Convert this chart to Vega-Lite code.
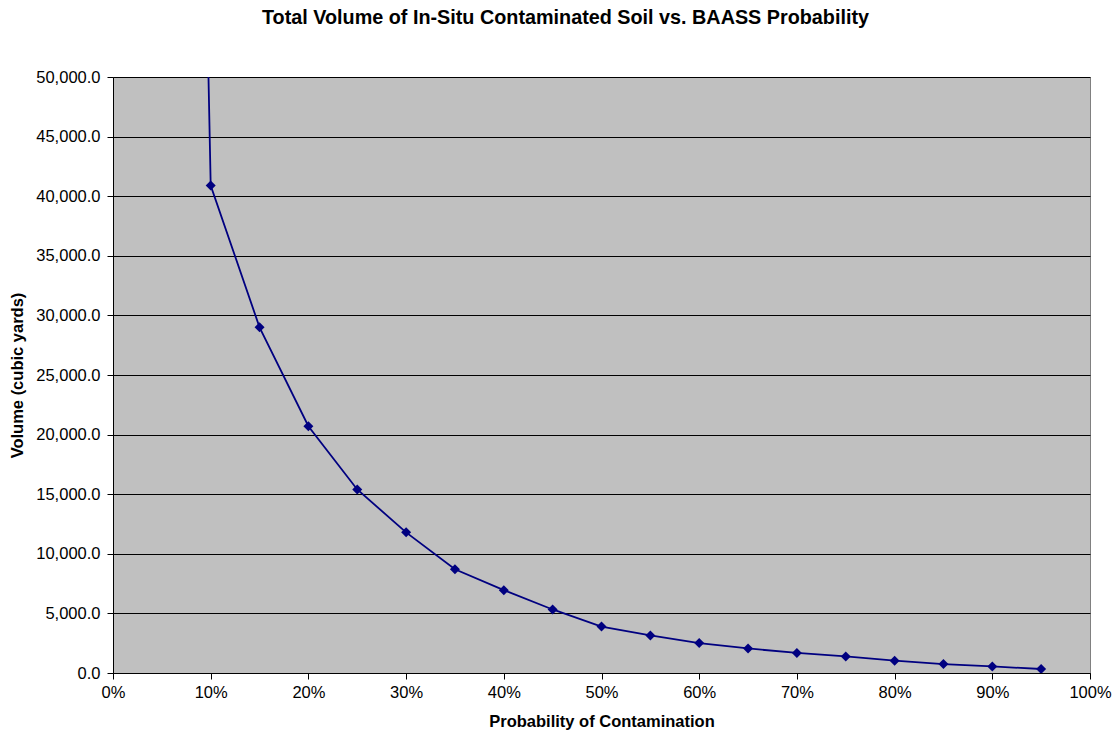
{
  "$schema": "https://vega.github.io/schema/vega-lite/v6.json",
  "autosize": "none",
  "width": 977,
  "height": 596,
  "padding": {"left": 113, "top": 77, "right": 27, "bottom": 67},
  "background": "#ffffff",
  "title": {
    "text": "Total Volume of In-Situ Contaminated Soil vs. BAASS Probability",
    "font": "Liberation Sans",
    "fontSize": 19.8,
    "fontWeight": "bold",
    "color": "#000000",
    "anchor": "middle",
    "dx": -36,
    "offset": 41
  },
  "config": {
    "view": {"fill": "#c0c0c0", "stroke": "#808080", "strokeWidth": 1},
    "axis": {
      "labelFont": "Liberation Sans",
      "labelFontSize": 16.5,
      "labelColor": "#000000",
      "labelFlush": false,
      "labelOverlap": false,
      "titleFont": "Liberation Sans",
      "titleFontSize": 16.5,
      "titleFontWeight": "bold",
      "titleColor": "#000000",
      "domainColor": "#000000",
      "tickColor": "#000000",
      "tickSize": 6,
      "gridColor": "#000000",
      "gridOpacity": 1,
      "gridWidth": 1
    }
  },
  "data": {
    "values": [
      {"probability": 0.05, "volume": 241000},
      {"probability": 0.10, "volume": 40900},
      {"probability": 0.15, "volume": 29000},
      {"probability": 0.20, "volume": 20700},
      {"probability": 0.25, "volume": 15400},
      {"probability": 0.30, "volume": 11800},
      {"probability": 0.35, "volume": 8700},
      {"probability": 0.40, "volume": 6950},
      {"probability": 0.45, "volume": 5330},
      {"probability": 0.50, "volume": 3900},
      {"probability": 0.55, "volume": 3150},
      {"probability": 0.60, "volume": 2510},
      {"probability": 0.65, "volume": 2060},
      {"probability": 0.70, "volume": 1680},
      {"probability": 0.75, "volume": 1390},
      {"probability": 0.80, "volume": 1030},
      {"probability": 0.85, "volume": 750},
      {"probability": 0.90, "volume": 550},
      {"probability": 0.95, "volume": 335}
    ]
  },
  "encoding": {
    "x": {
      "field": "probability",
      "type": "quantitative",
      "scale": {"domain": [0, 1], "nice": false},
      "axis": {
        "title": "Probability of Contamination",
        "format": ".0%",
        "values": [0, 0.1, 0.2, 0.3, 0.4, 0.5, 0.6, 0.7, 0.8, 0.9, 1],
        "grid": false,
        "labelPadding": 5,
        "titlePadding": 13
      }
    },
    "y": {
      "field": "volume",
      "type": "quantitative",
      "scale": {"domain": [0, 50000], "nice": false},
      "axis": {
        "title": "Volume (cubic yards)",
        "format": ",.1f",
        "values": [0, 5000, 10000, 15000, 20000, 25000, 30000, 35000, 40000, 45000, 50000],
        "grid": true,
        "labelPadding": 7,
        "titlePadding": 10
      }
    }
  },
  "layer": [
    {
      "mark": {"type": "line", "color": "#000080", "strokeWidth": 1.8, "clip": true}
    },
    {
      "transform": [{"filter": "datum.volume <= 50000"}],
      "mark": {"type": "point", "shape": "diamond", "filled": true, "color": "#000080", "opacity": 1, "size": 100, "clip": true}
    }
  ]
}
